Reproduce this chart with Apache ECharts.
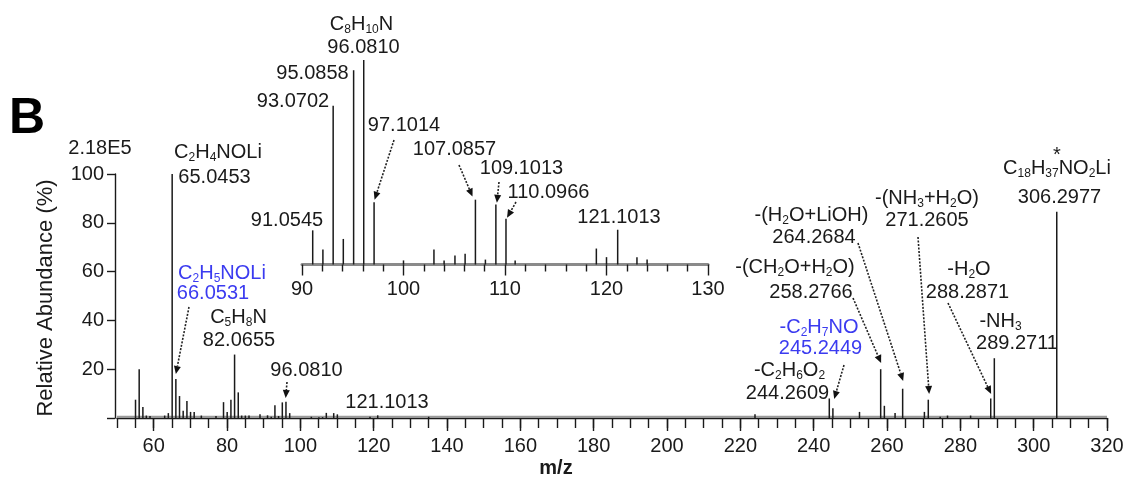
<!DOCTYPE html>
<html><head><meta charset="utf-8">
<script src="https://cdn.jsdelivr.net/npm/echarts@6/dist/echarts.min.js"></script>
<style>html,body{margin:0;padding:0;background:#fff}#c{width:1131px;height:481px}</style>
</head><body><div id="c"></div>
<script>
// ---- data ----
const mainMz = [55.05, 56.05, 57.06, 58.0, 59.0, 63.0, 64.0, 65.0453, 66.0531, 67.05, 68.05, 69.07, 70.06, 71.05, 73.0, 77.0,
  79.05, 80.05, 81.07, 82.0655, 83.07, 84.0, 85.0, 86.0, 89.0, 91.0545, 92.06, 93.0702, 94.07, 95.0858, 96.0810, 97.1014,
  103.0, 105.07, 106.07, 107.0857, 109.1013, 110.0966, 119.0, 121.1013, 135.0, 224.0, 244.2609, 245.2449, 252.5,
  258.2766, 259.28, 262.2, 264.2684, 270.2, 271.2605, 274.5, 276.5, 282.8, 288.2871, 289.2711, 306.2977];
const mainAbundance = [7.5, 20, 4.5, 1, 0.8, 1, 2, 100, 16, 9, 3, 7, 2.5, 2.5, 1, 0.8,
  6.5, 2.5, 7.5, 26, 10.5, 1, 1, 1, 1.5, 1.1, 0.5, 5.2, 0.8, 6.4, 6.7, 2.0,
  0.5, 0.3, 0.35, 2.1, 2.0, 1.5, 0.5, 1.1, 0.5, 1.5, 8, 4, 2.5,
  20, 5, 2, 12, 2.5, 7.5, 0.5, 1, 1, 8, 24.5, 84.5];
const insetMz = [91.0545, 92.06, 93.0702, 94.07, 95.0858, 96.0810, 97.1014, 100.0, 103.0, 104.0, 105.07, 106.07,
  107.0857, 108.07, 109.1013, 110.0966, 111.0, 119.0, 120.0, 121.1013, 123.0, 124.0];
const insetAbundance = [16.7, 7.3, 77.6, 12.5, 95, 100, 30.4, 2, 7.3, 2, 4.4, 5.2,
  31.7, 2.4, 29.3, 22.4, 2, 7.8, 3.6, 17, 3.6, 2.4];
const mainTickLabels = [60, 80, 100, 120, 140, 160, 180, 200, 220, 240, 260, 280, 300, 320];
const yTickLabels = [20, 40, 60, 80, 100];
const insetTickLabels = [90, 100, 110, 120, 130];

// ---- styling / layout ----
const FONT = "'Liberation Sans', Arial, sans-serif";
const BLACK = '#1a1a1a', BLUE = '#3b3bf0';
const chart = echarts.init(document.getElementById('c'));

const mainData = mainMz.map((m, i) => [m, mainAbundance[i]]);
const insetData = insetMz.map((m, i) => [m, insetAbundance[i]]);
const MAIN_W = 990;
const tickStyle = {color: BLACK, width: 1.4};
const labelStyle = {fontSize: 20, fontFamily: FONT, color: BLACK};

const option = {
  animation: false,
  grid: [
    {left: 117, right: 24, top: 174, bottom: 63},
    {left: 117 + 10 * MAIN_W / 270, right: 24, top: 174, bottom: 63},
    {left: 302, right: 423, top: 60, bottom: 216.5}
  ],
  xAxis: [
    {gridIndex: 0, type: 'value', min: 50, max: 320, interval: 5,
     axisLine: {lineStyle: tickStyle}, axisTick: {length: 10, lineStyle: tickStyle},
     axisLabel: Object.assign({margin: 18, formatter: v => mainTickLabels.includes(v) ? String(v) : ''}, labelStyle),
     splitLine: {show: false}},
    {gridIndex: 1, type: 'value', min: 60, max: 320, interval: 20,
     axisLine: {show: false}, axisTick: {length: 13, lineStyle: tickStyle},
     axisLabel: {show: false}, splitLine: {show: false}},
    {gridIndex: 2, type: 'value', min: 90, max: 130, interval: 10,
     axisLine: {lineStyle: {color: '#8a8a8a', width: 3}},
     axisTick: {length: 11, lineStyle: tickStyle},
     minorTick: {show: true, splitNumber: 5, length: 7, lineStyle: tickStyle},
     axisLabel: Object.assign({margin: 15, formatter: v => insetTickLabels.includes(v) ? String(v) : ''}, labelStyle),
     splitLine: {show: false}, minorSplitLine: {show: false}}
  ],
  yAxis: [
    {gridIndex: 0, type: 'value', min: 0, max: 100, interval: 20, offset: 2,
     axisLine: {show: true, lineStyle: tickStyle}, axisTick: {show: true, length: 8, lineStyle: tickStyle},
     axisLabel: Object.assign({margin: 11, formatter: v => yTickLabels.includes(v) ? String(v) : ''}, labelStyle),
     splitLine: {show: false}},
    {gridIndex: 1, type: 'value', min: 0, max: 100, show: false},
    {gridIndex: 2, type: 'value', min: 0, max: 100, show: false}
  ],
  series: [
    {type: 'bar', xAxisIndex: 0, yAxisIndex: 0, data: mainData, barWidth: 1.5,
     itemStyle: {color: BLACK}, silent: true,
     markArea: {silent: true, itemStyle: {color: '#9a9a9a'}, data: [[{yAxis: 0}, {yAxis: 0.9}]]}},
    {type: 'bar', xAxisIndex: 2, yAxisIndex: 2, data: insetData, barWidth: 1.5,
     itemStyle: {color: BLACK}, silent: true}
  ]
};
chart.setOption(option);

// ---- annotations ----
const annotations = [
  ['2.18E5', 100, 148], ['C_2H_4NOLi', 218, 152], ['65.0453', 214.5, 177],
  ['C_2H_5NOLi', 222, 273, BLUE], ['66.0531', 213, 293, BLUE],
  ['C_5H_8N', 238.5, 317], ['82.0655', 239, 340], ['96.0810', 306.5, 370], ['121.1013', 387, 402],
  ['C_8H_10N', 361.5, 24], ['96.0810', 363.5, 47], ['95.0858', 312.5, 73], ['93.0702', 293, 101],
  ['91.0545', 287, 220], ['97.1014', 404, 125], ['107.0857', 454.5, 149], ['109.1013', 521.5, 168],
  ['110.0966', 548.5, 192], ['121.1013', 619, 217],
  ['*', 1057, 155], ['C_18H_37NO_2Li', 1057, 168], ['306.2977', 1059.5, 197],
  ['-(NH_3+H_2O)', 927, 198], ['271.2605', 927, 220],
  ['-(H_2O+LiOH)', 811.5, 215], ['264.2684', 814, 237],
  ['-(CH_2O+H_2O)', 795, 267], ['258.2766', 811, 292],
  ['-H_2O', 969, 269], ['288.2871', 967.5, 292],
  ['-NH_3', 1000.5, 321], ['289.2711', 1017, 343],
  ['-C_2H_7NO', 819, 327, BLUE], ['245.2449', 820.5, 348, BLUE],
  ['-C_2H_6O_2', 789.5, 370], ['244.2609', 787.5, 393]
];
// [tailX, tailY, which axis, tip m/z, tip abundance]
const arrows = [
  [189, 307, 'main', 66.05, 18.0], [287, 382, 'main', 96.0, 8.2], [844, 365, 'main', 245.6, 7.8],
  [853, 298, 'main', 258.4, 22.5], [858, 243, 'main', 264.4, 15.2], [918, 237, 'main', 271.5, 9.8],
  [948, 303, 'main', 288.4, 9.8],
  [394, 140, 'inset', 97.15, 31.7], [459, 165, 'inset', 106.8, 33.2], [499, 182, 'inset', 109.2, 30.2],
  [516, 202, 'inset', 110.2, 22.9]
];

function toRich(str) {
  let out = '', buf = '';
  for (let i = 0; i < str.length; i++) {
    if (str[i] === '_') {
      if (buf) { out += '{n|' + buf + '}'; buf = ''; }
      let d = '';
      i++;
      while (i < str.length && /[0-9]/.test(str[i])) { d += str[i]; i++; }
      i--;
      out += '{s|' + d + '}';
    } else buf += str[i];
  }
  if (buf) out += '{n|' + buf + '}';
  return out;
}

const graphics = [];
annotations.forEach(([t, x, y, col]) => {
  const c = col || BLACK;
  graphics.push({type: 'text', x: x, y: y, z: 100, silent: true,
    style: {text: toRich(t), fill: c, font: '20px ' + FONT,
      align: 'center', verticalAlign: 'middle', textAlign: 'center', textVerticalAlign: 'middle',
      rich: {
        n: {fontSize: 20, fontFamily: FONT, fill: c, lineHeight: 20},
        s: {fontSize: 12, fontFamily: FONT, fill: c, lineHeight: 12, padding: [12, 0, 0, 0]}
      }}});
});
graphics.push({type: 'text', x: 27, y: 119, z: 100, silent: true,
  style: {text: 'B', fill: '#000', font: 'bold 50px ' + FONT, align: 'center', verticalAlign: 'middle',
    textAlign: 'center', textVerticalAlign: 'middle'}});
graphics.push({type: 'text', x: 556, y: 468, z: 100, silent: true,
  style: {text: 'm/z', fill: BLACK, font: 'bold 20px ' + FONT, align: 'center', verticalAlign: 'middle',
    textAlign: 'center', textVerticalAlign: 'middle'}});
graphics.push({type: 'text', x: 46, y: 298, rotation: Math.PI / 2, z: 100, silent: true,
  style: {text: 'Relative Abundance (%)', fill: BLACK, font: '22px ' + FONT, align: 'center', verticalAlign: 'middle',
    textAlign: 'center', textVerticalAlign: 'middle'}});

arrows.forEach(([tx, ty, which, mz, ab]) => {
  const idx = which === 'inset' ? 2 : 0;
  const p = chart.convertToPixel({xAxisIndex: idx, yAxisIndex: idx}, [mz, ab]);
  const dx = p[0] - tx, dy = p[1] - ty, L = Math.hypot(dx, dy);
  const ux = dx / L, uy = dy / L, head = 8, hw = 3.5;
  const bx = p[0] - ux * head, by = p[1] - uy * head;
  graphics.push({type: 'line', z: 90, silent: true,
    shape: {x1: tx, y1: ty, x2: bx, y2: by},
    style: {stroke: '#222', lineWidth: 1.6, lineDash: [2, 1.5]}});
  graphics.push({type: 'polygon', z: 90, silent: true,
    shape: {points: [[p[0], p[1]], [bx - uy * hw, by + ux * hw], [bx + uy * hw, by - ux * hw]]},
    style: {fill: '#111'}});
});
chart.setOption({graphic: graphics});
</script></body></html>
